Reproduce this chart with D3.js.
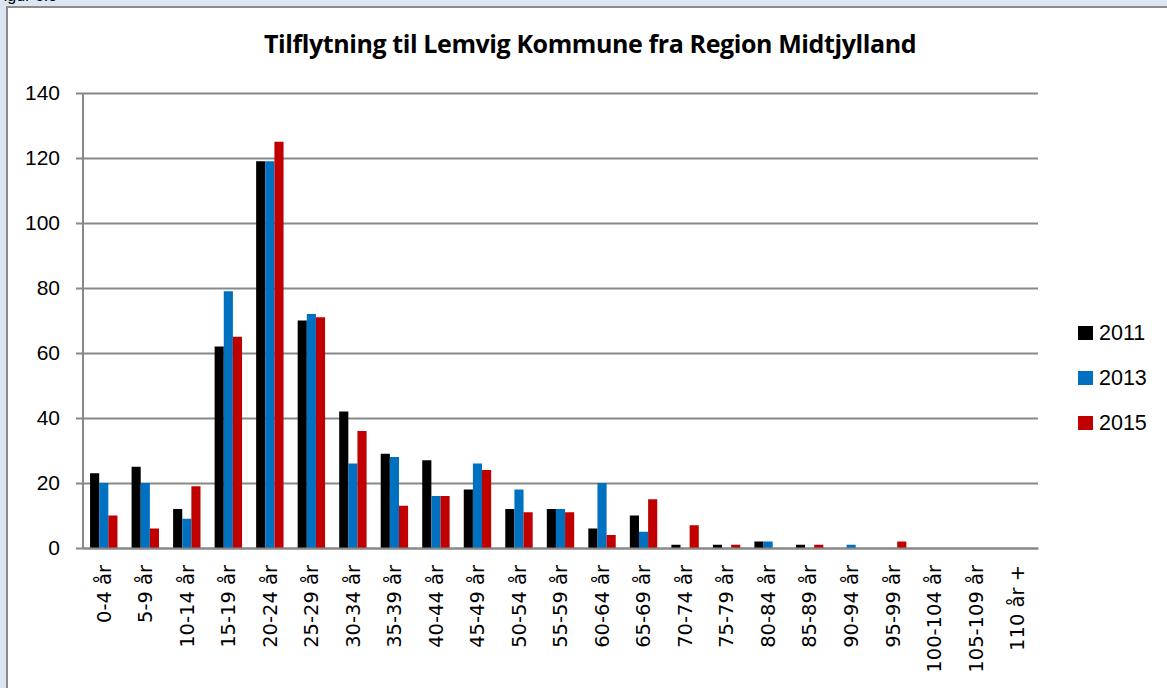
<!DOCTYPE html>
<html>
<head>
<meta charset="utf-8">
<script src="https://cdn.jsdelivr.net/npm/d3@7"></script>
<style>
  body { margin: 0; background: #dce6f2; }
  svg { display: block; }
</style>
</head>
<body>
<div id="chart"></div>
<script>
'use strict'

// data
const categories = ['0-4 år', '5-9 år', '10-14 år', '15-19 år', '20-24 år', '25-29 år', '30-34 år',
    '35-39 år', '40-44 år', '45-49 år', '50-54 år', '55-59 år', '60-64 år', '65-69 år', '70-74 år',
    '75-79 år', '80-84 år', '85-89 år', '90-94 år', '95-99 år', '100-104 år', '105-109 år', '110 år +']
const years = ['2011', '2013', '2015']
const values2011 = [23, 25, 12, 62, 119, 70, 42, 29, 27, 18, 12, 12, 6, 10, 1, 1, 2, 1, 0, 0, 0, 0, 0]
const values2013 = [20, 20, 9, 79, 119, 72, 26, 28, 16, 26, 18, 12, 20, 5, 0, 0, 2, 0, 1, 0, 0, 0, 0]
const values2015 = [10, 6, 19, 65, 125, 71, 36, 13, 16, 24, 11, 11, 4, 15, 7, 1, 0, 1, 0, 2, 0, 0, 0]
const yTicks = [0, 20, 40, 60, 80, 100, 120, 140]
const colors = ['#000000', '#0070c0', '#c00000']

const series = [values2011, values2013, values2015]

const svgWidth = 1167
const svgHeight = 688

const margin = { left: 83, right: 129, top: 93, bottom: 140 }
const width = svgWidth - margin.left - margin.right
const height = svgHeight - margin.top - margin.bottom

const svg = d3.select('#chart')
    .append('svg')
    .attr('width', svgWidth)
    .attr('height', svgHeight)

// chart frame
svg.append('rect')
    .attr('x', 7).attr('y', 7)
    .attr('width', svgWidth).attr('height', svgHeight)
    .attr('fill', '#ffffff')
    .attr('stroke', '#8c8c8c')
    .attr('stroke-width', 2)

// caption above the frame, cut off like in the source screenshot
svg.append('text')
    .attr('x', -6).attr('y', 1)
    .attr('font-family', 'Liberation Sans, sans-serif')
    .attr('font-size', 16)
    .attr('fill', '#000')
    .text('Figur 6.5')

svg.append('text')
    .attr('x', 590).attr('y', 53)
    .attr('text-anchor', 'middle')
    .attr('font-family', 'Open Sans, sans-serif')
    .attr('font-weight', 'bold')
    .attr('font-size', 25)
    .attr('letter-spacing', -0.4)
    .text('Tilflytning til Lemvig Kommune fra Region Midtjylland')

const g = svg.append('g')
    .attr('transform', `translate(${margin.left},${margin.top})`)

// scales
const xScale = d3.scaleBand()
    .domain(categories)
    .range([0, width])
    .paddingInner(0.34)
    .paddingOuter(0.17)

const xSub = d3.scaleBand()
    .domain(years)
    .range([0, xScale.bandwidth()])

const yScale = d3.scaleLinear()
    .domain([0, 140])
    .range([height, 0])

// gridlines + y axis
const yAxis = d3.axisLeft(yScale)
    .tickValues(yTicks)
    .tickSizeInner(-width)
    .tickSizeOuter(0)
    .tickPadding(23)

const yG = g.append('g').call(yAxis)
yG.select('.domain').remove()
yG.selectAll('.tick line')
    .attr('x1', -7)
    .attr('stroke', '#888888')
    .attr('stroke-width', 2)
yG.selectAll('.tick text')
    .attr('font-family', 'Liberation Sans, sans-serif')
    .attr('font-size', 21)
    .attr('fill', '#000')

// bars
series.forEach(function (vals, si) {
    g.append('g')
        .selectAll('rect')
        .data(vals)
        .join('rect')
        .attr('x', function (d, i) { return xScale(categories[i]) + xSub(years[si]) })
        .attr('y', function (d) { return yScale(d) })
        .attr('width', xSub.bandwidth())
        .attr('height', function (d) { return height - yScale(d) })
        .attr('fill', colors[si])
})

// vertical axis line
g.append('line')
    .attr('x1', 0).attr('x2', 0)
    .attr('y1', 0).attr('y2', height)
    .attr('stroke', '#888888')
    .attr('stroke-width', 2)

// x axis
const xAxis = d3.axisBottom(xScale).tickSize(0).tickPadding(0)
const xG = g.append('g')
    .attr('transform', `translate(0,${height})`)
    .call(xAxis)
xG.select('.domain')
    .attr('stroke', '#888888')
    .attr('stroke-width', 2)
xG.selectAll('.tick text')
    .attr('transform', 'rotate(-90)')
    .attr('text-anchor', 'end')
    .attr('dy', '0.35em')
    .attr('x', -17)
    .attr('y', 0)
    .attr('font-family', 'DejaVu Sans, sans-serif')
    .attr('font-size', 19.5)
    .attr('fill', '#000')

// legend
const legend = svg.append('g')
    .attr('transform', 'translate(1078,326)')

years.forEach(function (yr, i) {
    const row = legend.append('g').attr('transform', `translate(0,${i * 45})`)
    row.append('rect')
        .attr('width', 15).attr('height', 14)
        .attr('fill', colors[i])
    row.append('text')
        .attr('x', 21).attr('y', 14)
        .attr('font-family', 'Liberation Sans, sans-serif')
        .attr('font-size', 21.5)
        .attr('fill', '#000')
        .text(yr)
})
</script>
</body>
</html>
